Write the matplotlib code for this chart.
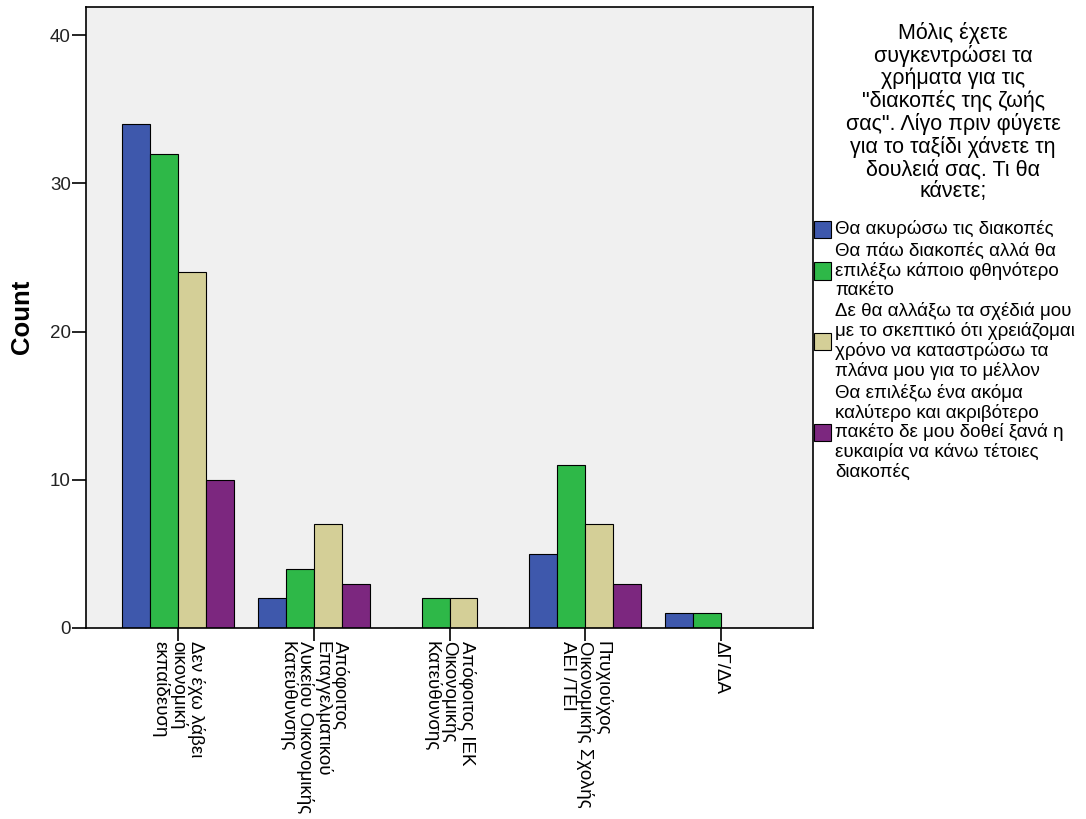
import matplotlib
matplotlib.use("Agg")
import matplotlib.pyplot as plt
import numpy as np
from matplotlib.patches import Rectangle

plt.rcParams['font.family'] = ['Liberation Sans', 'DejaVu Sans']

categories = [
    "Δεν έχω λάβει\nοικονομική\nεκπαίδευση",
    "Απόφοιτος\nΕπαγγελματικού\nΛυκείου Οικονομικής\nΚατεύθυνσης",
    "Απόφοιτος ΙΕΚ\nΟικονομικής\nΚατεύθυνσης",
    "Πτυχιούχος\nΟικονομικής Σχολής\nΑΕΙ /ΤΕΙ",
    "ΔΓ/ΔΑ",
]
series_labels = [
    "Θα ακυρώσω τις διακοπές",
    "Θα πάω διακοπές αλλά θα\nεπιλέξω κάποιο φθηνότερο\nπακέτο",
    "Δε θα αλλάξω τα σχέδιά μου\nμε το σκεπτικό ότι χρειάζομαι\nχρόνο να καταστρώσω τα\nπλάνα μου για το μέλλον",
    "Θα επιλέξω ένα ακόμα\nκαλύτερο και ακριβότερο\nπακέτο δε μου δοθεί ξανά η\nευκαιρία να κάνω τέτοιες\nδιακοπές",
]
cancel = [34, 2, 0, 5, 1]
cheaper = [32, 4, 2, 11, 1]
no_change = [24, 7, 2, 7, 0]
better = [10, 3, 0, 3, 0]
series_values = [cancel, cheaper, no_change, better]
colors = ["#3E58AC", "#2EB848", "#D4CF97", "#7C277F"]
legend_title = ("Μόλις έχετε\nσυγκεντρώσει τα\nχρήματα για τις\n\"διακοπές της ζωής\n"
                "σας\". Λίγο πριν φύγετε\nγια το ταξίδι χάνετε τη\nδουλειά σας. Τι θα\nκάνετε;")
yticks = [0, 10, 20, 30, 40]

W, H = 1086, 819
fig = plt.figure(figsize=(W / 100, H / 100), dpi=100)
ax = fig.add_axes([86 / W, 1 - 628 / H, (813 - 86) / W, (628 - 7) / H])
ax.set_facecolor("#F0F0F0")

x = np.arange(len(categories))
bw = 0.206
for i, (vals, c) in enumerate(zip(series_values, colors)):
    ax.bar(x + (i - 1.5) * bw, vals, width=bw, color=c, edgecolor="black", linewidth=0.8, zorder=2)

ax.set_xlim(-0.678, 4.678)
ax.set_ylim(0, 41.9)
ax.set_yticks(yticks)
ax.set_yticklabels([str(t) for t in yticks], fontsize=13.5, color="#222222")
ax.set_xticks(x)
ax.set_xticklabels(categories, rotation=-90, fontsize=13.5, ha="center", va="top",
                   multialignment="left", linespacing=0.98)
ax.tick_params(axis="y", length=10, width=1.2, pad=1)
ax.tick_params(axis="x", length=9, width=1.2, pad=0.5)
for s in ax.spines.values():
    s.set_linewidth(1.2)
    s.set_color("black")
fig.text(22 / W, 1 - 317 / H, "Count", rotation=90, ha="center", va="center",
         fontsize=18.5, fontweight="bold")

# legend (title + entries)
fig.text(953 / W, 1 - 112 / H, legend_title, ha="center", va="center", fontsize=15.5,
         multialignment="center", linespacing=1.06)
entry_centers = [229, 271, 341, 432]
for lab, c, yc in zip(series_labels, colors, entry_centers):
    sq = 17
    fig.patches.append(Rectangle((814 / W, 1 - (yc + sq / 2) / H), sq / W, sq / H,
                                 transform=fig.transFigure, facecolor=c,
                                 edgecolor="black", linewidth=0.8))
    fig.text(835 / W, 1 - yc / H, lab, ha="left", va="center", fontsize=13.5,
             linespacing=1.14)

fig.savefig("out.png", dpi=100)
